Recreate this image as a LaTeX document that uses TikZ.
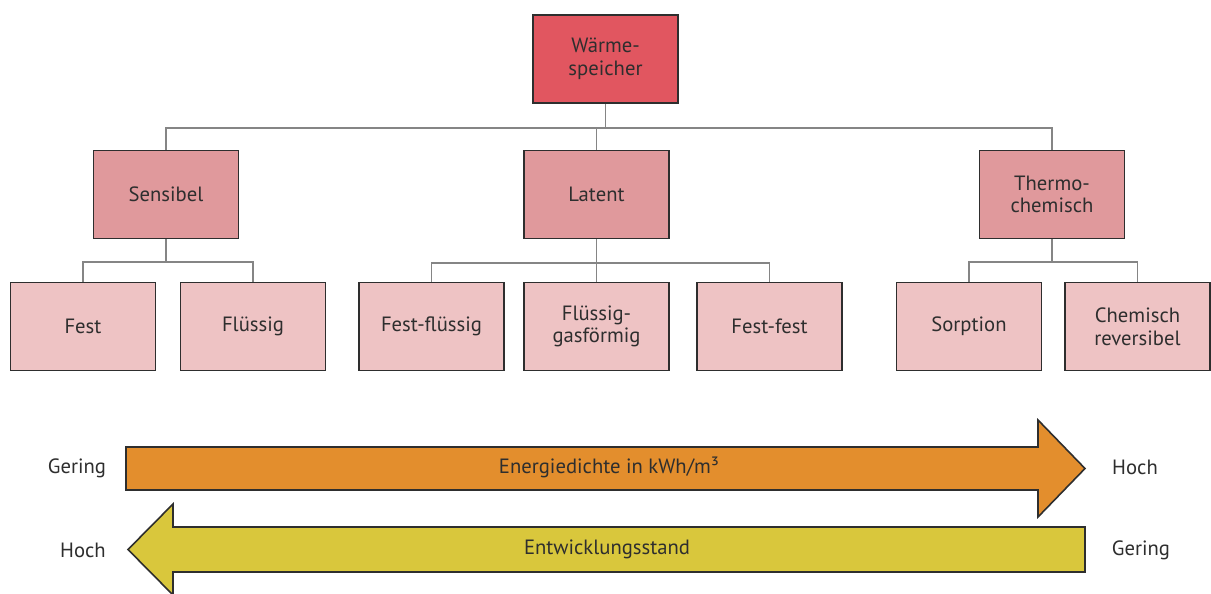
\documentclass[tikz,border=0pt]{standalone}
\usepackage{fontspec}
\setmainfont{PT Sans}
\usetikzlibrary{positioning}

\definecolor{txtgray}{HTML}{2E2E2E}
\definecolor{linegray}{HTML}{858585}
\definecolor{rootred}{HTML}{E15660}
\definecolor{midpink}{HTML}{E0999C}
\definecolor{leafpink}{HTML}{EEC3C4}
\definecolor{energyorange}{HTML}{E38E2D}
\definecolor{devyellow}{HTML}{D9C73C}

\begin{document}
\begin{tikzpicture} [
        x=0.75pt, y=-0.75pt,
        box/.style={draw=txtgray, rectangle, line width=1.4pt, text=txtgray,
                    align=center, font=\fontsize{15.5}{17}\selectfont,
                    minimum width=108.75pt, minimum height=66pt, inner sep=0pt},
        rootbox/.style={box, fill=rootred},
        midbox/.style={box, fill=midpink},
        leafbox/.style={box, fill=leafpink},
        conn/.style={draw=linegray, line width=1.4pt},
        bigarrow/.style={draw=txtgray, line width=1.2pt, line join=miter},
        scale label/.style={text=txtgray, font=\fontsize{15.5}{17}\selectfont} ]
    \useasboundingbox (0,0) rectangle (1211,593);

    % tree
    \node[rootbox] (root) at (605.5,59) {Wärme-\\speicher};

    \node[midbox] (sens)   at (166,194.5)  {Sensibel};
    \node[midbox] (lat)    at (596.5,194.5) {Latent};
    \node[midbox] (thermo) at (1052,194.5) {Thermo-\\chemisch};

    \node[leafbox] (fest)    at (83,326.5)    {Fest};
    \node[leafbox] (fluess)  at (253,326.5)   {Flüssig};
    \node[leafbox] (festfl)  at (431.5,326.5) {Fest-flüssig};
    \node[leafbox] (flgas)   at (596.5,326.5) {Flüssig-\\gasförmig};
    \node[leafbox] (festfe)  at (769.5,326.5) {Fest-fest};
    \node[leafbox] (sorp)    at (969,326.5)   {Sorption};
    \node[leafbox] (chemrev) at (1137.5,326.5) {Chemisch\\reversibel};

    \coordinate (bus0) at (605.5,128);
    \coordinate (bus1) at (166,262);
    \coordinate (bus2) at (596.5,263);
    \coordinate (bus3) at (1052,262);

    \draw[conn] (root.south) -- (bus0);
    \draw[conn] (sens.north) |- (bus0) -| (thermo.north);
    \draw[conn] (lat.north) -- (lat.north |- bus0);

    \draw[conn] (sens.south) -- (bus1);
    \draw[conn] (fest.north) |- (bus1) -| (fluess.north);

    \draw[conn] (lat.south) -- (flgas.north);
    \draw[conn] (festfl.north) |- (bus2) -| (festfe.north);

    \draw[conn] (thermo.south) -- (bus3);
    \draw[conn] (sorp.north) |- (bus3) -| (chemrev.north);

    % scale arrows
    \draw[bigarrow, fill=energyorange] (126,447) -- (1038,447) -- (1038,420)
        -- (1085,468.5) -- (1038,517) -- (1038,490) -- (126,490) -- cycle;
    \draw[bigarrow, fill=devyellow] (1085,527) -- (173,527) -- (173,504)
        -- (128,549.5) -- (173,595) -- (173,572) -- (1085,572) -- cycle;

    \node[scale label] (energy) at (609,467) {Energiedichte in kWh/m³};
    \node[scale label] (devstate) at (607,549.5) {Entwicklungsstand};

    \node[scale label] (lowE)  at (77,468)   {Gering};
    \node[scale label] (highE) at (1135,467) {Hoch};
    \node[scale label] (highD) at (83,550)   {Hoch};
    \node[scale label] (lowD)  at (1141,550) {Gering};
\end{tikzpicture}
\end{document}
